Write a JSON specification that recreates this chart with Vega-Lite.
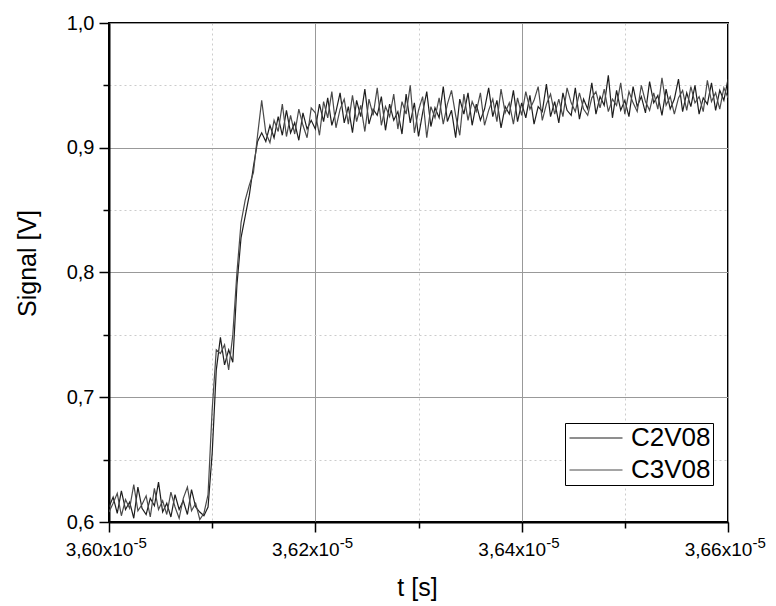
{
"$schema":"https://vega.github.io/schema/vega-lite/v6.json",
"width":619,"height":499,
"autosize":{"type":"none"},
"padding":{"left":109,"top":23,"right":48,"bottom":84},
"background":"white",
"config":{
"font":"Liberation Sans",
"view":{"stroke":"black","strokeWidth":2},
"axis":{"labelFont":"Liberation Sans","titleFont":"Liberation Sans","labelColor":"black","titleColor":"black","domainColor":"black","domainWidth":2,"tickColor":"black","tickWidth":1.5,"labelFontSize":19,"titleFontSize":25,"titleFontWeight":"normal"},
"legend":{"labelFont":"Liberation Sans"}
},
"data":{"values":[
{"t":3.6000e-5,"C2V08":0.612,"C3V08":0.608},
{"t":3.6004e-5,"C2V08":0.620,"C3V08":0.615},
{"t":3.6008e-5,"C2V08":0.607,"C3V08":0.623},
{"t":3.6012e-5,"C2V08":0.625,"C3V08":0.605},
{"t":3.6016e-5,"C2V08":0.610,"C3V08":0.618},
{"t":3.6020e-5,"C2V08":0.616,"C3V08":0.611},
{"t":3.6024e-5,"C2V08":0.603,"C3V08":0.630},
{"t":3.6028e-5,"C2V08":0.628,"C3V08":0.609},
{"t":3.6032e-5,"C2V08":0.611,"C3V08":0.614},
{"t":3.6036e-5,"C2V08":0.606,"C3V08":0.621},
{"t":3.6040e-5,"C2V08":0.619,"C3V08":0.604},
{"t":3.6044e-5,"C2V08":0.613,"C3V08":0.627},
{"t":3.6048e-5,"C2V08":0.632,"C3V08":0.610},
{"t":3.6052e-5,"C2V08":0.608,"C3V08":0.617},
{"t":3.6056e-5,"C2V08":0.615,"C3V08":0.606},
{"t":3.6060e-5,"C2V08":0.604,"C3V08":0.624},
{"t":3.6064e-5,"C2V08":0.622,"C3V08":0.612},
{"t":3.6068e-5,"C2V08":0.610,"C3V08":0.603},
{"t":3.6072e-5,"C2V08":0.617,"C3V08":0.619},
{"t":3.6076e-5,"C2V08":0.606,"C3V08":0.628},
{"t":3.6080e-5,"C2V08":0.626,"C3V08":0.609},
{"t":3.6084e-5,"C2V08":0.612,"C3V08":0.615},
{"t":3.6088e-5,"C2V08":0.608,"C3V08":0.602},
{"t":3.6092e-5,"C2V08":0.605,"C3V08":0.607},
{"t":3.6096e-5,"C2V08":0.612,"C3V08":0.622},
{"t":3.6100e-5,"C2V08":0.655,"C3V08":0.690},
{"t":3.6104e-5,"C2V08":0.722,"C3V08":0.738},
{"t":3.6108e-5,"C2V08":0.748,"C3V08":0.735},
{"t":3.6112e-5,"C2V08":0.726,"C3V08":0.742},
{"t":3.6116e-5,"C2V08":0.738,"C3V08":0.722},
{"t":3.6120e-5,"C2V08":0.728,"C3V08":0.750},
{"t":3.6124e-5,"C2V08":0.790,"C3V08":0.800},
{"t":3.6128e-5,"C2V08":0.828,"C3V08":0.840},
{"t":3.6132e-5,"C2V08":0.845,"C3V08":0.858},
{"t":3.6136e-5,"C2V08":0.862,"C3V08":0.870},
{"t":3.6140e-5,"C2V08":0.885,"C3V08":0.880},
{"t":3.6144e-5,"C2V08":0.905,"C3V08":0.910},
{"t":3.6148e-5,"C2V08":0.912,"C3V08":0.938},
{"t":3.6152e-5,"C2V08":0.905,"C3V08":0.912},
{"t":3.6156e-5,"C2V08":0.918,"C3V08":0.904},
{"t":3.6160e-5,"C2V08":0.908,"C3V08":0.922},
{"t":3.6164e-5,"C2V08":0.925,"C3V08":0.913},
{"t":3.6168e-5,"C2V08":0.910,"C3V08":0.935},
{"t":3.6172e-5,"C2V08":0.930,"C3V08":0.909},
{"t":3.6176e-5,"C2V08":0.912,"C3V08":0.926},
{"t":3.6180e-5,"C2V08":0.920,"C3V08":0.911},
{"t":3.6184e-5,"C2V08":0.906,"C3V08":0.931},
{"t":3.6188e-5,"C2V08":0.928,"C3V08":0.918},
{"t":3.6192e-5,"C2V08":0.915,"C3V08":0.908},
{"t":3.6196e-5,"C2V08":0.922,"C3V08":0.932},
{"t":3.6200e-5,"C2V08":0.915,"C3V08":0.928},
{"t":3.6204e-5,"C2V08":0.935,"C3V08":0.910},
{"t":3.6208e-5,"C2V08":0.921,"C3V08":0.937},
{"t":3.6212e-5,"C2V08":0.940,"C3V08":0.924},
{"t":3.6216e-5,"C2V08":0.918,"C3V08":0.945},
{"t":3.6220e-5,"C2V08":0.929,"C3V08":0.916},
{"t":3.6224e-5,"C2V08":0.944,"C3V08":0.931},
{"t":3.6228e-5,"C2V08":0.920,"C3V08":0.939},
{"t":3.6232e-5,"C2V08":0.933,"C3V08":0.919},
{"t":3.6236e-5,"C2V08":0.912,"C3V08":0.942},
{"t":3.6240e-5,"C2V08":0.938,"C3V08":0.921},
{"t":3.6244e-5,"C2V08":0.925,"C3V08":0.934},
{"t":3.6248e-5,"C2V08":0.947,"C3V08":0.913},
{"t":3.6252e-5,"C2V08":0.919,"C3V08":0.939},
{"t":3.6256e-5,"C2V08":0.931,"C3V08":0.926},
{"t":3.6260e-5,"C2V08":0.926,"C3V08":0.948},
{"t":3.6264e-5,"C2V08":0.941,"C3V08":0.918},
{"t":3.6268e-5,"C2V08":0.914,"C3V08":0.933},
{"t":3.6272e-5,"C2V08":0.935,"C3V08":0.925},
{"t":3.6276e-5,"C2V08":0.922,"C3V08":0.943},
{"t":3.6280e-5,"C2V08":0.929,"C3V08":0.915},
{"t":3.6284e-5,"C2V08":0.911,"C3V08":0.937},
{"t":3.6288e-5,"C2V08":0.943,"C3V08":0.927},
{"t":3.6292e-5,"C2V08":0.920,"C3V08":0.950},
{"t":3.6296e-5,"C2V08":0.936,"C3V08":0.912},
{"t":3.6300e-5,"C2V08":0.909,"C3V08":0.930},
{"t":3.6304e-5,"C2V08":0.928,"C3V08":0.941},
{"t":3.6308e-5,"C2V08":0.945,"C3V08":0.908},
{"t":3.6312e-5,"C2V08":0.917,"C3V08":0.933},
{"t":3.6316e-5,"C2V08":0.932,"C3V08":0.924},
{"t":3.6320e-5,"C2V08":0.924,"C3V08":0.940},
{"t":3.6324e-5,"C2V08":0.949,"C3V08":0.919},
{"t":3.6328e-5,"C2V08":0.921,"C3V08":0.935},
{"t":3.6332e-5,"C2V08":0.930,"C3V08":0.946},
{"t":3.6336e-5,"C2V08":0.908,"C3V08":0.926},
{"t":3.6340e-5,"C2V08":0.939,"C3V08":0.910},
{"t":3.6344e-5,"C2V08":0.927,"C3V08":0.943},
{"t":3.6348e-5,"C2V08":0.944,"C3V08":0.922},
{"t":3.6352e-5,"C2V08":0.918,"C3V08":0.937},
{"t":3.6356e-5,"C2V08":0.935,"C3V08":0.929},
{"t":3.6360e-5,"C2V08":0.922,"C3V08":0.944},
{"t":3.6364e-5,"C2V08":0.931,"C3V08":0.918},
{"t":3.6368e-5,"C2V08":0.948,"C3V08":0.930},
{"t":3.6372e-5,"C2V08":0.925,"C3V08":0.939},
{"t":3.6376e-5,"C2V08":0.938,"C3V08":0.921},
{"t":3.6380e-5,"C2V08":0.916,"C3V08":0.947},
{"t":3.6384e-5,"C2V08":0.933,"C3V08":0.928},
{"t":3.6388e-5,"C2V08":0.927,"C3V08":0.936},
{"t":3.6392e-5,"C2V08":0.946,"C3V08":0.919},
{"t":3.6396e-5,"C2V08":0.921,"C3V08":0.940},
{"t":3.6400e-5,"C2V08":0.936,"C3V08":0.926},
{"t":3.6404e-5,"C2V08":0.924,"C3V08":0.945},
{"t":3.6408e-5,"C2V08":0.942,"C3V08":0.931},
{"t":3.6412e-5,"C2V08":0.919,"C3V08":0.938},
{"t":3.6416e-5,"C2V08":0.933,"C3V08":0.949},
{"t":3.6420e-5,"C2V08":0.929,"C3V08":0.922},
{"t":3.6424e-5,"C2V08":0.951,"C3V08":0.935},
{"t":3.6428e-5,"C2V08":0.925,"C3V08":0.943},
{"t":3.6432e-5,"C2V08":0.937,"C3V08":0.927},
{"t":3.6436e-5,"C2V08":0.920,"C3V08":0.939},
{"t":3.6440e-5,"C2V08":0.944,"C3V08":0.925},
{"t":3.6444e-5,"C2V08":0.930,"C3V08":0.948},
{"t":3.6448e-5,"C2V08":0.926,"C3V08":0.936},
{"t":3.6452e-5,"C2V08":0.948,"C3V08":0.929},
{"t":3.6456e-5,"C2V08":0.923,"C3V08":0.944},
{"t":3.6460e-5,"C2V08":0.939,"C3V08":0.931},
{"t":3.6464e-5,"C2V08":0.931,"C3V08":0.926},
{"t":3.6468e-5,"C2V08":0.952,"C3V08":0.940},
{"t":3.6472e-5,"C2V08":0.927,"C3V08":0.945},
{"t":3.6476e-5,"C2V08":0.941,"C3V08":0.932},
{"t":3.6480e-5,"C2V08":0.934,"C3V08":0.947},
{"t":3.6484e-5,"C2V08":0.958,"C3V08":0.929},
{"t":3.6488e-5,"C2V08":0.924,"C3V08":0.939},
{"t":3.6492e-5,"C2V08":0.946,"C3V08":0.934},
{"t":3.6496e-5,"C2V08":0.930,"C3V08":0.952},
{"t":3.6500e-5,"C2V08":0.938,"C3V08":0.927},
{"t":3.6504e-5,"C2V08":0.925,"C3V08":0.945},
{"t":3.6508e-5,"C2V08":0.949,"C3V08":0.936},
{"t":3.6512e-5,"C2V08":0.933,"C3V08":0.929},
{"t":3.6516e-5,"C2V08":0.941,"C3V08":0.950},
{"t":3.6520e-5,"C2V08":0.928,"C3V08":0.937},
{"t":3.6524e-5,"C2V08":0.953,"C3V08":0.930},
{"t":3.6528e-5,"C2V08":0.936,"C3V08":0.944},
{"t":3.6532e-5,"C2V08":0.942,"C3V08":0.931},
{"t":3.6536e-5,"C2V08":0.926,"C3V08":0.956},
{"t":3.6540e-5,"C2V08":0.947,"C3V08":0.934},
{"t":3.6544e-5,"C2V08":0.931,"C3V08":0.941},
{"t":3.6548e-5,"C2V08":0.939,"C3V08":0.927},
{"t":3.6552e-5,"C2V08":0.955,"C3V08":0.940},
{"t":3.6556e-5,"C2V08":0.929,"C3V08":0.946},
{"t":3.6560e-5,"C2V08":0.944,"C3V08":0.930},
{"t":3.6564e-5,"C2V08":0.933,"C3V08":0.949},
{"t":3.6568e-5,"C2V08":0.950,"C3V08":0.936},
{"t":3.6572e-5,"C2V08":0.927,"C3V08":0.941},
{"t":3.6576e-5,"C2V08":0.940,"C3V08":0.929},
{"t":3.6580e-5,"C2V08":0.935,"C3V08":0.954},
{"t":3.6584e-5,"C2V08":0.952,"C3V08":0.937},
{"t":3.6588e-5,"C2V08":0.930,"C3V08":0.944},
{"t":3.6592e-5,"C2V08":0.946,"C3V08":0.931},
{"t":3.6596e-5,"C2V08":0.938,"C3V08":0.948},
{"t":3.6600e-5,"C2V08":0.955,"C3V08":0.940}
]},
"transform":[{"fold":["C2V08","C3V08"],"as":["series","v"]}],
"resolve":{"axis":{"x":"independent","y":"independent"}},
"layer":[
{
"mark":{"type":"line","strokeWidth":1.2,"clip":true},
"encoding":{
"x":{"field":"t","type":"quantitative","scale":{"domain":[3.6e-5,3.66e-5],"nice":false,"zero":false},
"axis":{"orient":"bottom","values":[3.6e-5,3.61e-5,3.62e-5,3.63e-5,3.64e-5,3.65e-5,3.66e-5],
"labelExpr":"round(datum.value*1e7)%2==1 ? '' : replace(format(datum.value*1e5,'.2f'),'.',',')+'x10'",
"grid":true,
"gridColor":{"condition":{"test":"round(datum.value*1e7)%2==1","value":"#cccccc"},"value":"#999999"},
"gridDash":{"condition":{"test":"round(datum.value*1e7)%2==1","value":[2,3]},"value":[]},
"ticks":true,
"tickSize":{"condition":{"test":"round(datum.value*1e7)%2==1","value":6},"value":10},
"labelFontSize":19,"labelOffset":-10,"labelPadding":8,"labelFlush":false,"labelOverlap":false,
"title":"t [s]","titleFontSize":25,"titleX":308,"titleY":65,"titleBaseline":"middle","titleAlign":"center"}},
"y":{"field":"v","type":"quantitative","scale":{"domain":[0.6,1.0],"nice":false,"zero":false},
"axis":{"orient":"left","values":[0.6,0.65,0.7,0.75,0.8,0.85,0.9,0.95,1.0],
"labelExpr":"round(datum.value*100)%10==5 ? '' : replace(format(datum.value,'.1f'),'.',',')",
"grid":true,
"gridColor":{"condition":{"test":"round(datum.value*100)%10==5","value":"#cccccc"},"value":"#999999"},
"gridDash":{"condition":{"test":"round(datum.value*100)%10==5","value":[2,3]},"value":[]},
"ticks":true,
"tickSize":{"condition":{"test":"round(datum.value*100)%10==5","value":6},"value":10},
"labelFontSize":20,"labelPadding":5,"labelFlush":false,"labelOverlap":false,
"title":"Signal [V]","titleFontSize":25,"titleX":-82,"titleY":240,"titleBaseline":"middle","titleAlign":"center","titleAngle":-90}},
"color":{"field":"series","type":"nominal","scale":{"domain":["C2V08","C3V08"],"range":["#1e1e1e","#4a4a4a"]},
"legend":{"orient":"none","legendX":456,"legendY":400,"title":null,"labelFontSize":26,"symbolType":"M-2.65,0H2.65","symbolSize":400,"symbolStrokeWidth":1,"symbolOffset":16,"strokeColor":"black","fillColor":"white","padding":2,"labelOffset":22,"rowPadding":6}}
}
},
{
"mark":{"type":"line","opacity":0},
"encoding":{
"x":{"field":"t","type":"quantitative","axis":{"orient":"bottom","values":[3.6e-5,3.62e-5,3.64e-5,3.66e-5],"labelExpr":"'-5'","ticks":false,"domain":false,"grid":false,"title":null,"labelFontSize":15,"labelAlign":"left","labelOffset":24,"labelPadding":13,"labelFlush":false,"labelOverlap":false}},
"y":{"field":"v","type":"quantitative","axis":null},
"detail":{"field":"series"}
}
}
]
}
